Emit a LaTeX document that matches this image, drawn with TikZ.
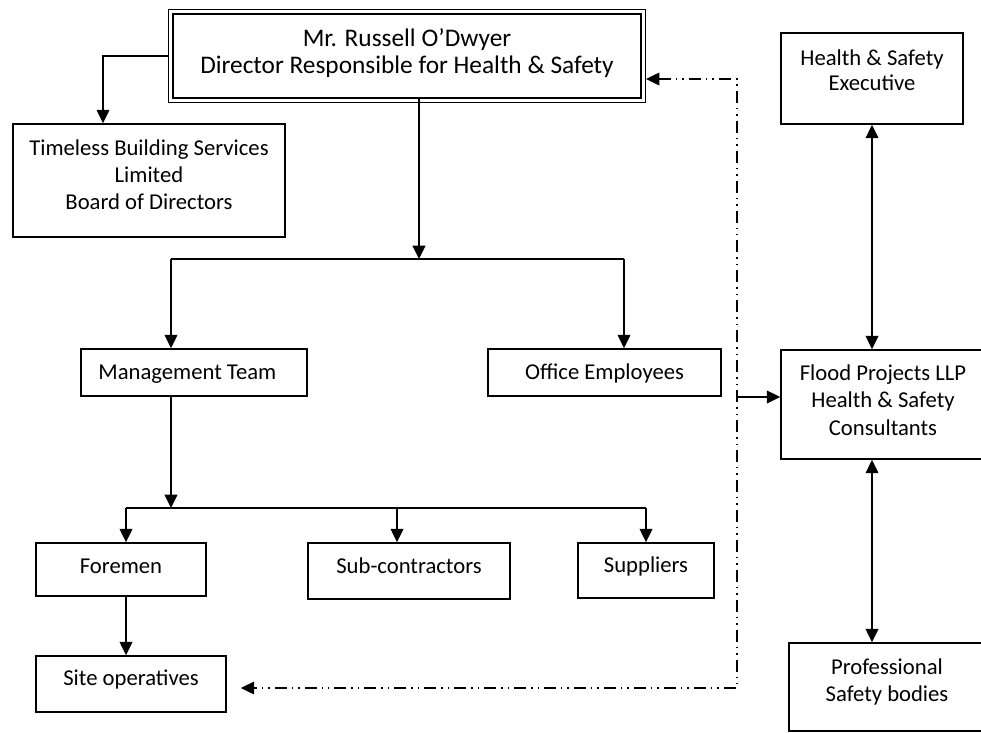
\documentclass[tikz,border=0pt]{standalone}
\usepackage{fontspec}
\setmainfont{Carlito}
\usetikzlibrary{arrows.meta}
\newcommand{\lo}[1]{\rule[-#1]{0pt}{0pt}}
\tikzset{
  >={Triangle[length=10pt,width=9.5pt]},
  box/.style={draw, line width=1.2pt, align=center, inner sep=0pt,
    font=\fontsize{17}{20.5}\selectfont},
  one/.style={text height=12pt},
  line/.style={line width=1.2pt},
  conn/.style={line width=1.2pt, ->},
  both/.style={line width=1.2pt, <->},
  dashdot/.style={line width=1.1pt, dash pattern=on 9pt off 3.75pt on 1.1pt off 3.75pt on 1.1pt off 3.75pt},
}
\begin{document}
\begin{tikzpicture}[x=0.75pt,y=-0.75pt]
\useasboundingbox (0,0) rectangle (981,732);
\clip (0,0) rectangle (981,732);

% boxes (sizes in pt = px * 0.75)
\node[box, line width=1.9pt, minimum width=351pt, minimum height=63pt, font=\fontsize{19}{20.25}\selectfont] (dir) at (407,56)
  {Mr. Russell O’Dwyer\\Director Responsible for Health \& Safety\lo{7.9pt}};
\draw[line width=0.9pt] ([shift={(-2.2pt,2.2pt)}]dir.north west) rectangle ([shift={(2.2pt,-2.2pt)}]dir.south east);
\coordinate (dirE) at ([xshift=2.8pt]dir.east);

\node[box, minimum width=204pt, minimum height=84.75pt] (tbs) at (149,180.5) {Timeless Building Services\\Limited\\Board of Directors\lo{9pt}};
\node[box, one, text depth=1.6pt, minimum width=169.5pt, minimum height=35.25pt] (mgmt) at (194,372.5) {Management Team\hspace*{10pt}};
\node[box, one, text depth=1.6pt, minimum width=174.75pt, minimum height=35.25pt] (office) at (604.5,372.5) {Office Employees};
\node[box, one, text depth=6pt, minimum width=127.5pt, minimum height=39.75pt] (foremen) at (121,569.5) {Foremen};
\node[box, one, text depth=8.8pt, minimum width=151.5pt, minimum height=42pt] (sub) at (409,571) {Sub-contractors};
\node[box, one, text depth=8.3pt, minimum width=102pt, minimum height=41.25pt] (supp) at (646,570.5) {Suppliers};
\node[box, one, text depth=9.1pt, minimum width=142.5pt, minimum height=42pt] (site) at (131,684) {Site operatives};
\node[box, font=\fontsize{17}{19}\selectfont, minimum width=136.5pt, minimum height=68.25pt] (hse) at (872,78.5) {Health \& Safety\\Executive\lo{13pt}};
\node[box, minimum width=153pt, minimum height=81.75pt] (flood) at (883,404.5) {Flood Projects LLP\\Health \& Safety\\Consultants\lo{7pt}};
\node[box, minimum width=147pt, minimum height=66pt] (prof) at (887,687) {Professional\\Safety bodies\lo{10pt}};

% junction points
\coordinate (tl) at (103,56);
\coordinate (b1) at (419,259);
\coordinate (bl) at (171,259);
\coordinate (br) at (624,259);
\coordinate (c1) at (171,508);
\coordinate (cl) at (126,508);
\coordinate (cm) at (397,508);
\coordinate (cr) at (646,508);
\coordinate (d1) at (737,79);
\coordinate (d2) at (737,688);
\coordinate (d3) at (737,397);
\coordinate (siteE) at ([xshift=10.5pt]site.east);

% director to board
\draw[conn] ([xshift=-2.2pt]dir.west) -- (tl) -- (tl |- tbs.north);
% director to management / office
\draw[conn] (dir.south -| b1) -- (b1);
\draw[line] (bl) -- (br);
\draw[conn] (bl) -- (bl |- mgmt.north);
\draw[conn] (br) -- (br |- office.north);
% management to foremen etc.
\draw[conn] (c1 |- mgmt.south) -- (c1);
\draw[line] (cl) -- (cr);
\draw[conn] (cl) -- (cl |- foremen.north);
\draw[conn] (cm) -- (cm |- sub.north);
\draw[conn] (cr) -- (cr |- supp.north);
\draw[conn] (cl |- foremen.south) -- (cl |- site.north);
% consultants
\draw[both] (hse.south) -- (hse.south |- flood.north);
\draw[both] (hse.south |- flood.south) -- (hse.south |- prof.north);
\draw[conn] (d3) -- (d3 -| flood.west);
% dash-dot link
\draw[dashdot, <->] (dirE |- d1) -- (d1) -- (d2) -- (siteE |- d2);
\end{tikzpicture}
\end{document}
